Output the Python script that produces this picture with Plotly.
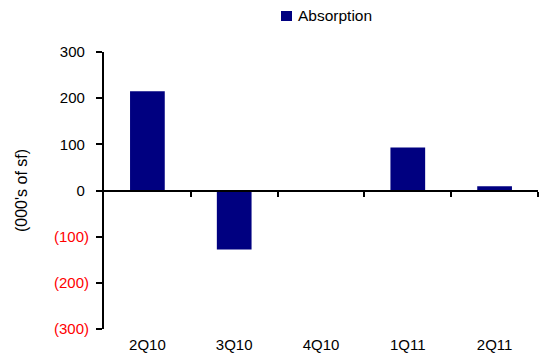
import plotly.graph_objects as go

# Quarterly net absorption, thousands of square feet
quarters = ["2Q10", "3Q10", "4Q10", "1Q11", "2Q11"]
absorption = [215, -128, 0, 93, 9]
series_name = "Absorption"

# Y-axis ticks; negatives shown in red parentheses
y_ticks = [300, 200, 100, 0, -100, -200, -300]
y_tick_text = ["300\u2008", "200\u2008", "100\u2008", "0\u2008",
               "<span style='color:#ff0000'>(100)</span>",
               "<span style='color:#ff0000'>(200)</span>",
               "<span style='color:#ff0000'>(300)</span>"]

NAVY = "#000080"
FONT = "Liberation Sans, Arial, sans-serif"

fig = go.Figure()
fig.add_trace(go.Bar(
    x=quarters, y=absorption, name=series_name,
    marker=dict(color=NAVY, line=dict(width=0)),
    showlegend=False,
))

# Invisible helper trace so the zero-crossing axis is drawn
fig.add_trace(go.Scatter(x=[0], y=[0], xaxis="x2", mode="markers",
                         marker=dict(opacity=0), showlegend=False,
                         hoverinfo="skip"))

# Legend key: navy square + label above the plot
fig.add_shape(type="rect", xref="paper", yref="paper",
              x0=(281 - 104) / 434, x1=(292 - 104) / 434,
              y0=(329 - 21) / 277, y1=(329 - 11) / 277,
              fillcolor=NAVY, line=dict(width=0))
fig.add_annotation(text=series_name, xref="paper", yref="paper",
                   x=(296 - 104) / 434, y=(329 - 16) / 277,
                   xanchor="left", yanchor="middle", showarrow=False,
                   font=dict(size=15.5))

fig.update_layout(
    width=540, height=354,
    margin=dict(l=104, r=2, t=52, b=25, autoexpand=False),
    plot_bgcolor="white", paper_bgcolor="white",
    font=dict(family=FONT, size=15, color="#000000"),
    bargap=0.6,
    showlegend=False,
    xaxis=dict(
        type="category", range=[-0.5, 4.5], automargin=False,
        showline=False, showgrid=False, zeroline=False,
        ticks="", ticklabelstandoff=5,
        tickfont=dict(size=15),
    ),
    xaxis2=dict(
        overlaying="x", anchor="free", position=0.5, automargin=False,
        range=[-0.5, 4.5], showgrid=False, zeroline=False,
        showline=True, linecolor="#000000", linewidth=2,
        ticks="outside", ticklen=5, tickwidth=2, tickcolor="#000000",
        tickvals=[0.5, 1.5, 2.5, 3.5, 4.5], showticklabels=False,
    ),
    yaxis=dict(
        range=[-300, 300], tickvals=y_ticks, ticktext=y_tick_text,
        automargin=False,
        showgrid=False, zeroline=False,
        showline=True, linecolor="#000000", linewidth=2,
        ticks="outside", ticklen=6, tickwidth=2, tickcolor="#000000",
        ticklabelstandoff=4,
        title=dict(text="(000's of sf)", font=dict(size=16), standoff=22),
    ),
)

fig.write_html("out.html")
